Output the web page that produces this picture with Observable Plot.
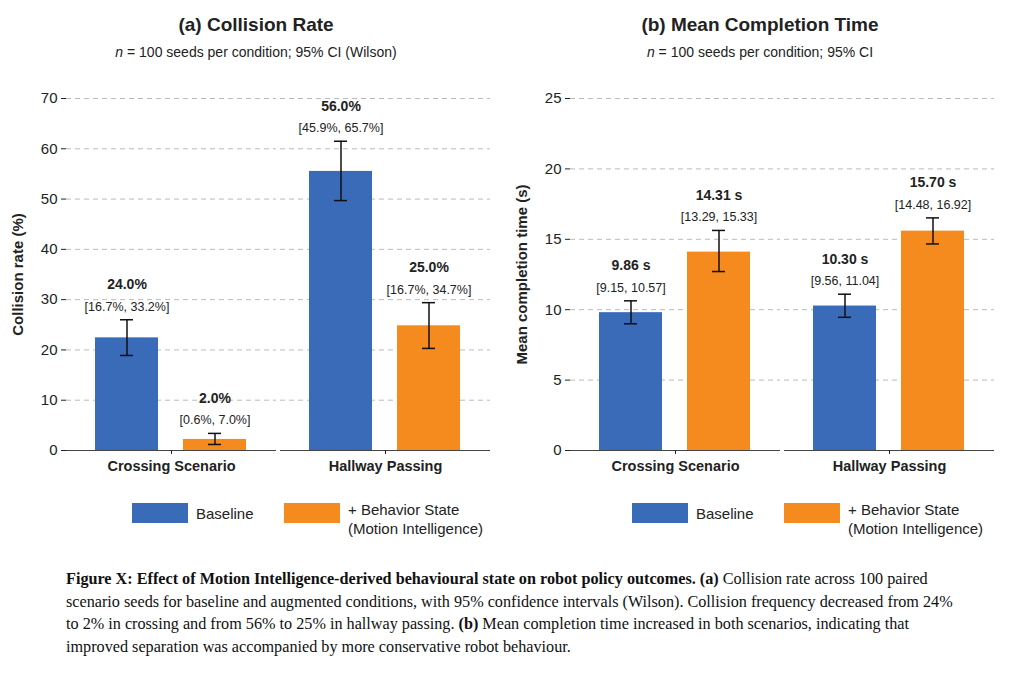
<!DOCTYPE html>
<html><head><meta charset="utf-8">
<script src="https://cdn.jsdelivr.net/npm/d3@7"></script>
<script src="https://cdn.jsdelivr.net/npm/@observablehq/plot@0.6"></script>
<style>
body{margin:0;background:#fff;font-family:"Liberation Sans",Arial,sans-serif;width:1024px;height:683px;position:relative;overflow:hidden}
.panel{position:absolute;top:0;width:512px;height:560px}
.title{position:absolute;top:14px;width:100%;text-align:center;font-weight:bold;font-size:19px;color:#222}
.sub{position:absolute;top:44px;width:100%;text-align:center;font-size:14px;color:#222}
.chart{position:absolute;top:80px;left:0}
.legend{position:absolute;top:500px;left:0;width:512px;font-size:15px;color:#222}
.sw{position:absolute;width:56px;height:20px}
.lt{position:absolute}
.caption{position:absolute;left:66px;top:568px;width:900px;font-family:"Liberation Serif","Times New Roman",serif;font-size:16.2px;line-height:22.5px;color:#111}
</style></head><body>
<div class="panel" id="pa" style="left:0">
 <div class="title">(a) Collision Rate</div>
 <div class="sub"><i>n</i> = 100 seeds per condition; 95% CI (Wilson)</div>
 <div class="chart" id="ca"></div>
 <div class="legend"><div class="sw" style="left:132px;top:3px;background:#3a6bb8"></div><div class="lt" style="left:196px;top:5px">Baseline</div>
 <div class="sw" style="left:284px;top:3px;background:#f58a1f"></div><div class="lt" style="left:348px;top:0px;line-height:19px">+ Behavior State<br>(Motion Intelligence)</div></div>
</div>
<div class="panel" id="pb" style="left:504px">
 <div class="title">(b) Mean Completion Time</div>
 <div class="sub"><i>n</i> = 100 seeds per condition; 95% CI</div>
 <div class="chart" id="cb"></div>
 <div class="legend"><div class="sw" style="left:128px;top:3px;background:#3a6bb8"></div><div class="lt" style="left:192px;top:5px">Baseline</div>
 <div class="sw" style="left:280px;top:3px;background:#f58a1f"></div><div class="lt" style="left:344px;top:0px;line-height:19px">+ Behavior State<br>(Motion Intelligence)</div></div>
</div>
<div class="caption"><b>Figure X: Effect of Motion Intelligence-derived behavioural state on robot policy outcomes.</b> <b>(a)</b> Collision rate across 100 paired scenario seeds for baseline and augmented conditions, with 95% confidence intervals (Wilson). Collision frequency decreased from 24% to 2% in crossing and from 56% to 25% in hallway passing. <b>(b)</b> Mean completion time increased in both scenarios, indicating that improved separation was accompanied by more conservative robot behaviour.</div>
<script>
const scenarios = ["Crossing Scenario","Crossing Scenario","Hallway Passing","Hallway Passing"];
const conditions = ["Baseline","+ Behavior State","Baseline","+ Behavior State"];
// Panel (a) collision rate
const rateVal = [22.4, 2.2, 55.5, 24.8];
const rateLo = [18.9, 1.2, 49.7, 20.3];
const rateHi = [26.0, 3.4, 61.5, 29.4];
const rateLabel = ["24.0%","2.0%","56.0%","25.0%"];
const rateCI = ["[16.7%, 33.2%]","[0.6%, 7.0%]","[45.9%, 65.7%]","[16.7%, 34.7%]"];
// Panel (b) completion time
const timeVal = [9.79, 14.09, 10.26, 15.58];
const timeLo = [9.0, 12.71, 9.46, 14.67];
const timeHi = [10.63, 15.63, 11.1, 16.52];
const timeLabel = ["9.86 s","14.31 s","10.30 s","15.70 s"];
const timeCI = ["[9.15, 10.57]","[13.29, 15.33]","[9.56, 11.04]","[14.48, 16.92]"];

function make(vals, lo, hi, lab, ci, ymax, yticks, ylabel, labGap){
  const data = vals.map((v,i)=>({s:scenarios[i], c:conditions[i], v, lo:lo[i], hi:hi[i], lab:lab[i], ci:ci[i]}));
  return Plot.plot({
    width: 512, height: 400, marginTop: 18, marginBottom: 30, marginLeft: 66, marginRight: 22,
    style:{fontFamily:'"Liberation Sans",Arial,sans-serif', fontSize:"14px", color:"#222"},
    fx:{domain:["Crossing Scenario","Hallway Passing"], padding:0.02, label:null},
    x:{domain:["Baseline","+ Behavior State"], paddingInner:0.28, paddingOuter:0.32, axis:null},
    y:{domain:[0,ymax], ticks:yticks, label:ylabel, labelAnchor:"center", labelArrow:"none", labelOffset:54, tickSize:5, fontSize:15},
    color:{domain:["Baseline","+ Behavior State"], range:["#3a6bb8","#f58a1f"]},
    marks:[
      Plot.gridY(yticks.filter(d=>d>0), {stroke:"#bbb", strokeDasharray:"5,4", strokeOpacity:1}),
      Plot.barY(data, {fx:"s", x:"c", y:"v", fill:"c"}),
      Plot.ruleX(data, {fx:"s", x:"c", y1:"lo", y2:"hi", stroke:"#111", strokeWidth:1.5}),
      Plot.tickY(data, {fx:"s", x:"c", y:"lo", stroke:"#111", strokeWidth:1.5, inset:25}),
      Plot.tickY(data, {fx:"s", x:"c", y:"hi", stroke:"#111", strokeWidth:1.5, inset:25}),
      Plot.text(data, {fx:"s", x:"c", y:"hi", text:"ci", dy:-labGap, fontSize:12.5, fill:"#222"}),
      Plot.text(data, {fx:"s", x:"c", y:"hi", text:"lab", dy:-labGap-22, fontSize:14, fontWeight:"bold", fill:"#222"}),
      Plot.ruleY([0], {stroke:"#444"}),
      Plot.axisFx({label:null, fontWeight:"bold", fontSize:14.5, tickSize:4, tickPadding:6, anchor:"bottom"}),
      Plot.ruleX([0], {frameAnchor:"left", stroke:"#444"})
    ]
  });
}
const a = make(rateVal, rateLo, rateHi, rateLabel, rateCI, 70, [0,10,20,30,40,50,60,70], "Collision rate (%)", 13);
const b = make(timeVal, timeLo, timeHi, timeLabel, timeCI, 25, [0,5,10,15,20,25], "Mean completion time (s)", 13);
for (const p of [a,b]) {
  p.querySelectorAll('[aria-label="y-axis label"] text').forEach(t=>{t.setAttribute("font-weight","bold");t.setAttribute("font-size","15");});
  p.querySelectorAll('[aria-label="y-axis tick label"] text').forEach(t=>{t.setAttribute("font-size","15");});
}
document.getElementById("ca").append(a);
document.getElementById("cb").append(b);
</script>
</body></html>
